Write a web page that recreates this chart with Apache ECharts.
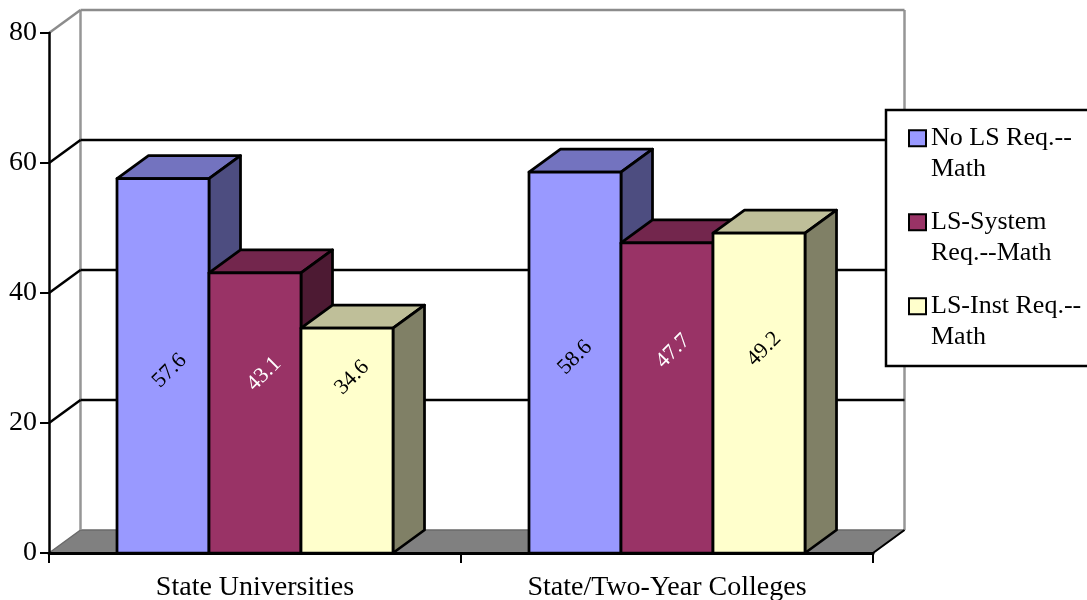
<!DOCTYPE html>
<html><head><meta charset="utf-8">
<style>html,body{margin:0;padding:0;background:#fff}#c{width:1087px;height:600px}</style>
<script src="https://cdn.jsdelivr.net/npm/echarts@6/dist/echarts.min.js"></script>
</head><body><div id="c"></div>
<script>
const categories = ['State Universities', 'State/Two-Year Colleges'];
const seriesNames = ['No LS Req.--\nMath', 'LS-System\nReq.--Math', 'LS-Inst Req.--\nMath'];
const noLsValues = [57.6, 58.6];
const lsSystemValues = [43.1, 47.7];
const lsInstValues = [34.6, 49.2];
const tickValues = [0, 20, 40, 60, 80];

const FONT = '"Liberation Serif","Times New Roman",serif';
const depthX = 31.5, depthY = -23;
const barFrac = 92 / 412;
const faces = [
  {front:'#9999FF', top:'#7373BF', side:'#4D4D80', label:'#000'},
  {front:'#993366', top:'#73264D', side:'#4D1A33', label:'#fff'},
  {front:'#FFFFCC', top:'#BFBF99', side:'#808066', label:'#000'}
];
// label nudges from the centre of each bar's front face [series][category] = [dx, dy]
const labelNudge = [
  [[6.5,5],[0,-5]],
  [[9,-39],[6,-47]],
  [[5,-63],[5,-44]]
];

function poly(points, fill, stroke, lw){
  return {type:'polygon', shape:{points}, style:{fill, stroke, lineWidth:lw, lineJoin:'round'}};
}
function line(x1,y1,x2,y2,color,lw){
  return {type:'line', shape:{x1,y1,x2,y2}, style:{stroke:color, lineWidth:lw}};
}
function barRender(si){
  return function(params, api){
    const c = api.value(0), v = api.value(1);
    const band = api.size([1,0])[0];
    const w = band * barFrac;
    const top = api.coord([c, v]);
    const base = api.coord([c, 0]);
    const x0 = top[0] - 1.5*w + si*w, x1 = x0 + w;
    const y0 = top[1], y1 = base[1];
    const f = faces[si];
    const n = labelNudge[si][c];
    return {type:'group', children:[
      poly([[x0,y0],[x0+depthX,y0+depthY],[x1+depthX,y0+depthY],[x1,y0]], f.top, '#000', 2.75),
      poly([[x1,y0],[x1+depthX,y0+depthY],[x1+depthX,y1+depthY],[x1,y1]], f.side, '#000', 2.75),
      poly([[x0,y0],[x1,y0],[x1,y1],[x0,y1]], f.front, '#000', 2.75),
      {type:'text', x:(x0+x1)/2+n[0], y:(y0+y1)/2+n[1], rotation:Math.PI/4,
       style:{text:v.toFixed(1), fill:f.label, font:'22px '+FONT, textAlign:'center', textVerticalAlign:'middle'}}
    ]};
  };
}
function wallRender(params, api){
  const a = api.coord([0,0]), band = api.size([1,0])[0];
  const xL = a[0]-band/2, xR = xL + 2*band;
  const v = api.value(0), y = api.coord([0,v])[1];
  const yTop = api.coord([0,tickValues[tickValues.length-1]])[1];
  const yb = a[1];
  if (v === 0) {
    return {type:'group', children:[
      poly([[xL,yb],[xL+depthX,yb+depthY],[xR+depthX,yb+depthY],[xR,yb]], '#808080', '#6a6a6a', 1.5),
      line(xL+depthX,yTop+depthY,xL+depthX,yb+depthY,'#969696',2.5),
      line(xR+depthX,yTop+depthY,xR+depthX,yb+depthY,'#969696',2.5),
      line(xR,yb,xR+depthX,yb+depthY,'#000',2)
    ]};
  }
  const col = v === tickValues[tickValues.length-1] ? '#8c8c8c' : '#000';
  return {type:'group', children:[
    line(xL,y,xL+depthX,y+depthY,col,2.5),
    line(xL+depthX,y+depthY,xR+depthX,y+depthY,col,2.5)
  ]};
}
const valueSets = [noLsValues, lsSystemValues, lsInstValues];
const chart = echarts.init(document.getElementById('c'), null, {renderer:'canvas'});
chart.setOption({
  animation:false,
  backgroundColor:'#fff',
  grid:{left:49, top:33, width:824, height:520, containLabel:false, outerBoundsMode:'none'},
  xAxis:{type:'category', data:categories, z:3,
    axisLine:{lineStyle:{color:'#000', width:3}},
    axisTick:{show:true, length:10, lineStyle:{color:'#000', width:2}, alignWithLabel:false},
    axisLabel:{color:'#000', fontFamily:FONT, fontSize:28, margin:21, interval:0},
    splitLine:{show:false}
  },
  yAxis:{type:'value', min:0, max:80, interval:20, z:3,
    axisLine:{show:true, lineStyle:{color:'#000', width:2.5}},
    axisTick:{show:true, length:9, lineStyle:{color:'#000', width:2}},
    axisLabel:{color:'#000', fontFamily:FONT, fontSize:28, margin:12},
    splitLine:{show:false}
  },
  legend:{
    orient:'vertical', left:908, top:92.5, padding:0, itemWidth:17, itemHeight:16, itemGap:-7.5,
    icon:'rect', selectedMode:false, z:8,
    data:seriesNames,
    formatter:n=>' \n'+n,
    itemStyle:{borderColor:'#000', borderWidth:2},
    textStyle:{color:'#000', fontFamily:FONT, fontSize:26, lineHeight:30.5}
  },
  graphic:[{type:'rect', z:7, shape:{x:886,y:110,width:210,height:256},
    style:{fill:'#fff', stroke:'#000', lineWidth:2.5}}],
  series:[
    {type:'custom', name:'walls', z:1, coordinateSystem:'cartesian2d', silent:true,
     renderItem:wallRender, data:tickValues.map(v=>[v]), encode:{y:0}},
    ...valueSets.map((vals,si)=>({
      type:'custom', name:seriesNames[si], z:4+si, coordinateSystem:'cartesian2d', clip:false,
      itemStyle:{color:faces[si].front},
      renderItem:barRender(si),
      data:vals.map((v,i)=>[i,v]), encode:{x:0,y:1}
    }))
  ]
});
</script></body></html>
